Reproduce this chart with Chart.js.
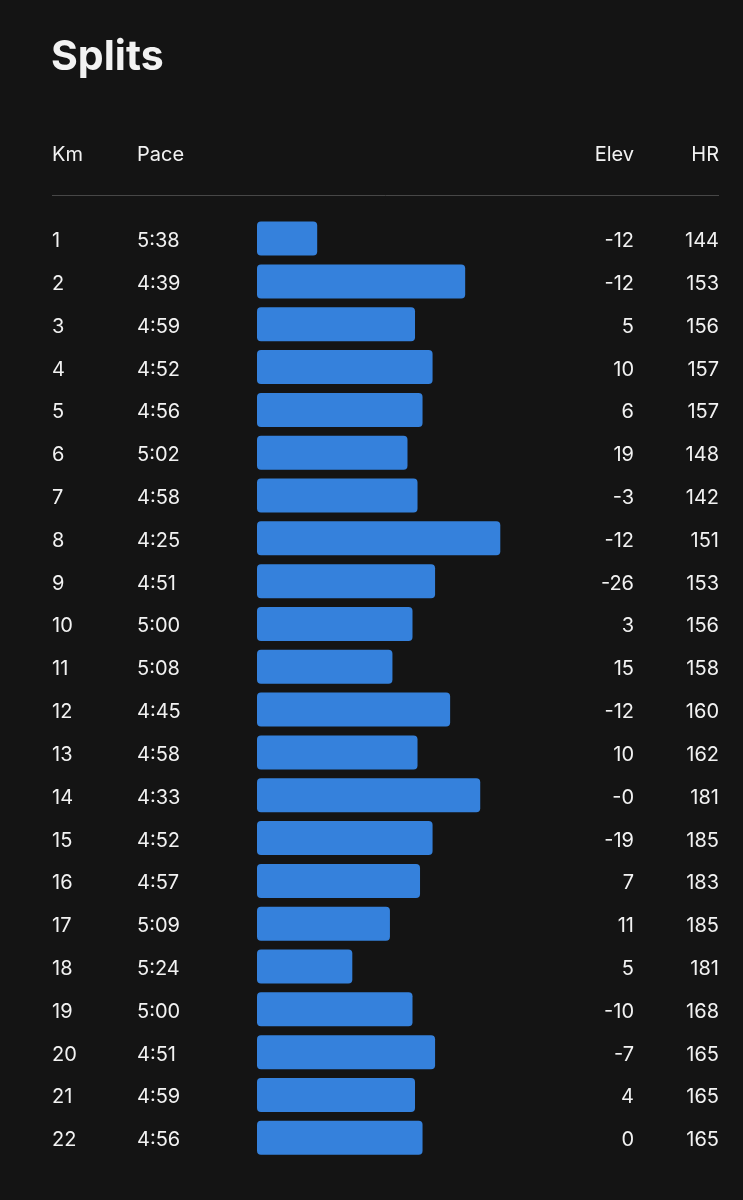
<!DOCTYPE html>
<html>
<head>
<meta charset="utf-8">
<script src="https://cdn.jsdelivr.net/npm/chart.js@4"></script>
<style>
  html, body { margin: 0; padding: 0; background: #141414; }
  #wrap { position: relative; width: 743px; height: 1200px; }
</style>
</head>
<body>
<div id="wrap"><canvas id="c"></canvas></div>
<script>
// ---- data ----
const km = ["1","2","3","4","5","6","7","8","9","10","11","12","13","14","15","16","17","18","19","20","21","22"];
const pace = ["5:38","4:39","4:59","4:52","4:56","5:02","4:58","4:25","4:51","5:00","5:08","4:45","4:58","4:33","4:52","4:57","5:09","5:24","5:00","4:51","4:59","4:56"];
const elev = ["-12","-12","5","10","6","19","-3","-12","-26","3","15","-12","10","-0","-19","7","11","5","-10","-7","4","0"];
const hr = ["144","153","156","157","157","148","142","151","153","156","158","160","162","181","185","183","185","181","168","165","165","165"];
const headers = ["Km", "Pace", "Elev", "HR"];
const title = "Splits";

// pace in seconds per km (parsed from the labels)
const paceSec = pace.map(p => { const [m, s] = p.split(":").map(Number); return m * 60 + s; });
const slowBase = 362; // bars grow from this (slow) pace towards faster paces
const barData = paceSec.map(v => [slowBase, v]);

const FONT = "Inter, 'Noto Sans', sans-serif";
const TEXT = "#f2f2f2";

const tablePlugin = {
  id: "tableText",
  afterDraw(chart) {
    const ctx = chart.ctx;
    const y = chart.scales.y;
    ctx.save();
    // title
    ctx.fillStyle = TEXT;
    ctx.textBaseline = "alphabetic";
    ctx.textAlign = "left";
    ctx.font = "700 41px " + FONT;
    ctx.fillText(title, 51, 70);
    // header
    ctx.font = "400 20px " + FONT;
    ctx.textBaseline = "middle";
    ctx.textAlign = "left";
    ctx.fillText(headers[0], 52, 155);
    ctx.fillText(headers[1], 137, 155);
    ctx.textAlign = "right";
    ctx.fillText(headers[2], 634, 155);
    ctx.fillText(headers[3], 719, 155);
    // divider
    ctx.strokeStyle = "#474747";
    ctx.lineWidth = 1;
    ctx.beginPath();
    ctx.moveTo(52, 195.5);
    ctx.lineTo(719, 195.5);
    ctx.stroke();
    // rows
    km.forEach((k, i) => {
      const py = y.getPixelForValue(i) + 2.5;
      ctx.textAlign = "left";
      ctx.fillText(k, 52, py);
      ctx.fillText(pace[i], 137, py);
      ctx.textAlign = "right";
      ctx.fillText(elev[i], 634, py);
      ctx.fillText(hr[i], 719, py);
    });
    ctx.restore();
  }
};

new Chart(document.getElementById("c"), {
  type: "bar",
  data: {
    labels: km,
    datasets: [{
      data: barData,
      backgroundColor: "#3581dc",
      borderWidth: 0,
      borderRadius: 4,
      borderSkipped: false,
      barPercentage: 0.794,
      categoryPercentage: 1.0
    }]
  },
  options: {
    indexAxis: "y",
    responsive: true,
    maintainAspectRatio: false,
    animation: false,
    layout: { padding: { left: 257, right: 180, top: 217.2, bottom: 40.8 } },
    plugins: { legend: { display: false }, tooltip: { enabled: false } },
    scales: {
      x: { type: "linear", reverse: true, min: 240, max: slowBase, display: false },
      y: { type: "category", offset: true, display: false }
    }
  },
  plugins: [tablePlugin]
});
</script>
</body>
</html>
